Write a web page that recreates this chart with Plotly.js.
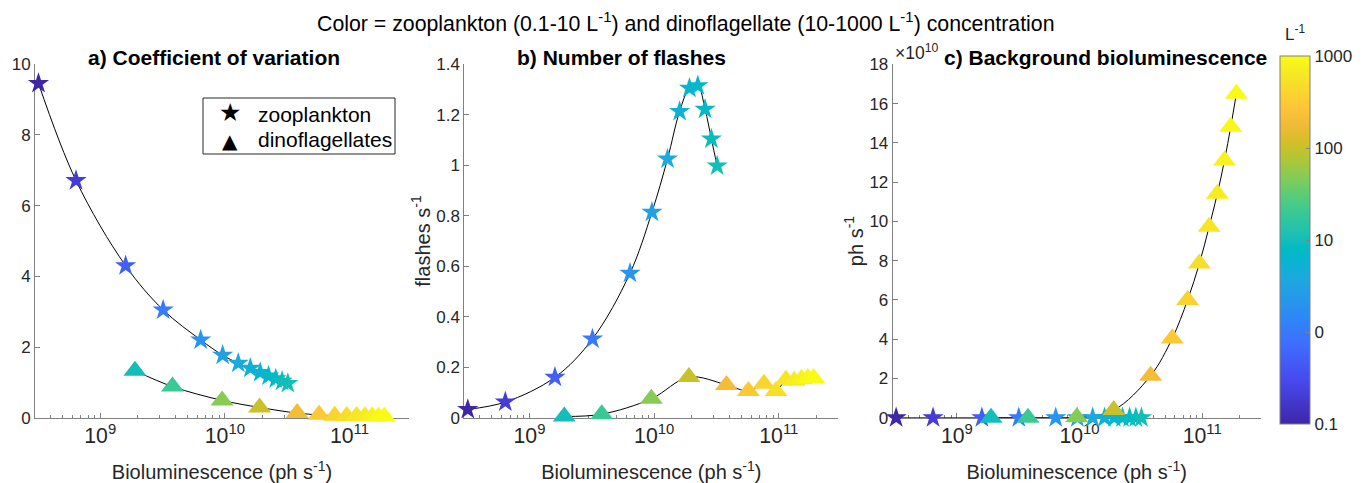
<!DOCTYPE html>
<html><head><meta charset="utf-8">
<script src="https://cdn.plot.ly/plotly-3.0.1.min.js"></script>
<style>html,body{margin:0;padding:0;background:#fff}</style>
</head><body><div id="chart" style="width:1370px;height:483px"></div>
<script>
// ---- data ----
const zooConc = [0.1, 0.2, 0.5, 1, 2, 3, 4, 5, 6, 7, 8, 9, 10];
const zooBiolum = [3.2e8, 6.4e8, 1.6e9, 3.2e9, 6.4e9, 9.6e9, 1.28e10, 1.6e10, 1.92e10, 2.24e10, 2.56e10, 2.88e10, 3.2e10];
const zooCV = [9.46, 6.71, 4.30, 3.05, 2.20, 1.77, 1.54, 1.40, 1.28, 1.18, 1.10, 1.03, 0.97];
const zooFlashes = [0.033, 0.062, 0.16, 0.312, 0.572, 0.814, 1.025, 1.213, 1.305, 1.315, 1.222, 1.104, 0.997];
const zooBackground = [0, 0, 0, 0, 0, 0, 0, 0, 0, 0, 0, 0, 0];

const dinoConc = [10, 20, 50, 100, 200, 300, 400, 500, 600, 700, 800, 900, 1000];
const dinoBiolum = [1.9e9, 3.8e9, 9.5e9, 1.9e10, 3.8e10, 5.7e10, 7.6e10, 9.5e10, 1.14e11, 1.33e11, 1.52e11, 1.71e11, 1.9e11];
const dinoCV = [1.33, 0.88, 0.49, 0.29, 0.13, 0.08, 0.057, 0.05, 0.045, 0.04, 0.04, 0.035, 0.035];
const dinoFlashes = [0.005, 0.014, 0.075, 0.161, 0.13, 0.106, 0.134, 0.106, 0.15, 0.146, 0.153, 0.157, 0.157];
const dinoBackground = [0, 0, 2e8, 3.9e9, 2.14e10, 4.04e10, 5.99e10, 7.86e10, 9.73e10, 1.141e11, 1.31e11, 1.482e11, 1.65e11];

const legendLabels = ['zooplankton', 'dinoflagellates'];
const bgTickVals = [0, 2e10, 4e10, 6e10, 8e10, 10e10, 12e10, 14e10, 16e10, 18e10];
const bgTickText = ['0', '2', '4', '6', '8', '10', '12', '14', '16', '18'];
const cbTickVals = [-1, 0, 1, 2, 3];
const cbTickText = ['0.1', '0', '10', '100', '1000'];

// MATLAB parula colormap
const parula = [
  [0.000, 'rgb(62,38,168)'], [0.111, 'rgb(71,71,235)'], [0.222, 'rgb(62,111,255)'],
  [0.286, 'rgb(46,135,247)'], [0.333, 'rgb(39,150,235)'], [0.397, 'rgb(28,169,223)'],
  [0.444, 'rgb(8,181,208)'], [0.476, 'rgb(2,186,195)'], [0.508, 'rgb(25,191,182)'],
  [0.571, 'rgb(55,200,151)'], [0.619, 'rgb(87,204,122)'], [0.667, 'rgb(129,204,89)'],
  [0.714, 'rgb(171,199,57)'], [0.762, 'rgb(209,191,39)'], [0.810, 'rgb(240,186,54)'],
  [0.857, 'rgb(254,195,56)'], [0.905, 'rgb(250,214,45)'], [0.952, 'rgb(245,233,36)'],
  [1.000, 'rgb(249,251,21)']
];

const zooColor = zooConc.map(Math.log10);
const dinoColor = dinoConc.map(Math.log10);

const FONT = 'Liberation Sans, Arial, Helvetica, sans-serif';
const AX = '#808080';
const TXT = '#262626';
const STAR = 16, TRI = 20;

function lineTrace(x, y, xa, ya) {
  return {x: x, y: y, xaxis: xa, yaxis: ya, type: 'scatter', mode: 'lines',
    line: {color: 'black', width: 1, shape: 'spline'}, showlegend: false, hoverinfo: 'skip', cliponaxis: false};
}
function markTrace(x, y, c, sym, size, xa, ya, name) {
  return {x: x, y: y, xaxis: xa, yaxis: ya, type: 'scatter', mode: 'markers', name: name,
    marker: {symbol: sym, size: size, color: c, coloraxis: 'coloraxis', line: {width: 0}},
    showlegend: false, cliponaxis: false};
}

const traces = [
  lineTrace(zooBiolum, zooCV, 'x', 'y'),
  lineTrace(dinoBiolum, dinoCV, 'x', 'y'),
  lineTrace(zooBiolum, zooFlashes, 'x2', 'y2'),
  lineTrace(dinoBiolum, dinoFlashes, 'x2', 'y2'),
  lineTrace(zooBiolum, zooBackground, 'x3', 'y3'),
  lineTrace(dinoBiolum, dinoBackground, 'x3', 'y3'),
  markTrace(zooBiolum, zooCV, zooColor, 'star', STAR, 'x', 'y', legendLabels[0]),
  markTrace(dinoBiolum, dinoCV, dinoColor, 'triangle-up', TRI, 'x', 'y', legendLabels[1]),
  markTrace(zooBiolum, zooFlashes, zooColor, 'star', STAR, 'x2', 'y2', legendLabels[0]),
  markTrace(dinoBiolum, dinoFlashes, dinoColor, 'triangle-up', TRI, 'x2', 'y2', legendLabels[1]),
  markTrace(zooBiolum, zooBackground, zooColor, 'star', STAR, 'x3', 'y3', legendLabels[0]),
  markTrace(dinoBiolum, dinoBackground, dinoColor, 'triangle-up', TRI, 'x3', 'y3', legendLabels[1])
];

const W = 1370, H = 483;
const px = v => v / W, py = v => 1 - v / H;
const yDom = [py(417.7), py(64.3)];

function xAxis(l, r, anchor) {
  return {domain: [px(l), px(r)], anchor: anchor, type: 'log',
    range: [Math.log10(3e8), Math.log10(3e11)], dtick: 1, exponentformat: 'power',
    ticks: 'inside', ticklen: 5, tickcolor: AX, showline: true, linecolor: AX, linewidth: 1,
    showgrid: false, zeroline: false, layer: 'below traces', automargin: false,
    tickfont: {family: FONT, size: 17, color: TXT},
    minor: {ticks: 'inside', ticklen: 3, tickcolor: AX, dtick: 'D1', showgrid: false},
    title: {text: 'Bioluminescence (ph s<sup>-1</sup>)', font: {family: FONT, size: 20, color: TXT}, standoff: 18}};
}
function yAxis(anchor, range, extra) {
  return Object.assign({domain: yDom, anchor: anchor, range: range,
    ticks: 'inside', ticklen: 5, tickcolor: AX, showline: true, linecolor: AX, linewidth: 1,
    showgrid: false, zeroline: false, layer: 'below traces', automargin: false,
    tickfont: {family: FONT, size: 17, color: TXT}}, extra);
}

function label(text, x, y, size, opts) {
  return Object.assign({text: text, xref: 'paper', yref: 'paper', x: px(x), y: py(y),
    xanchor: 'center', yanchor: 'middle', showarrow: false,
    font: {family: FONT, size: size, color: 'black'}}, opts || {});
}

const layout = {
  width: W, height: H, margin: {l: 0, r: 0, t: 0, b: 0},
  paper_bgcolor: 'white', plot_bgcolor: 'white',
  font: {family: FONT, color: TXT},
  showlegend: false,
  xaxis: xAxis(35, 409, 'y'),
  xaxis2: xAxis(464.3, 838.3, 'y2'),
  xaxis3: xAxis(892.7, 1260.7, 'y3'),
  yaxis: yAxis('x', [0, 10], {dtick: 2}),
  yaxis2: yAxis('x2', [0, 1.4], {dtick: 0.2,
    title: {text: 'flashes s<sup>-1</sup>', font: {family: FONT, size: 20, color: TXT}, standoff: 0}}),
  yaxis3: yAxis('x3', [0, 18e10], {tickmode: 'array', tickvals: bgTickVals, ticktext: bgTickText,
    title: {text: 'ph s<sup>-1</sup>', font: {family: FONT, size: 20, color: TXT}, standoff: 0}}),
  coloraxis: {cmin: -1, cmax: 3, colorscale: parula,
    colorbar: {x: px(1280), xanchor: 'left', y: py(56), yanchor: 'top', len: 368, lenmode: 'pixels',
      thickness: 30, thicknessmode: 'pixels', xpad: 0, ypad: 0, outlinewidth: 1, outlinecolor: AX,
      tickmode: 'array', tickvals: cbTickVals, ticktext: cbTickText, ticks: 'inside', ticklen: 4, tickcolor: AX,
      tickfont: {family: FONT, size: 17, color: TXT}}},
  shapes: [
    {type: 'rect', xref: 'paper', yref: 'paper', x0: px(203), x1: px(395), y0: py(154), y1: py(98),
      line: {color: TXT, width: 1}, fillcolor: 'rgba(0,0,0,0)', layer: 'above'}
  ],
  annotations: [
    label('Color = zooplankton (0.1-10 L<sup>-1</sup>) and dinoflagellate (10-1000 L<sup>-1</sup>) concentration', 686, 22, 21.3),
    label('<b>a) Coefficient of variation</b>', 214, 57.5, 21),
    label('<b>b) Number of flashes</b>', 621.5, 57.5, 21),
    label('<b>c) Background bioluminescence</b>', 1105, 57.5, 21),
    label('×10<sup>10</sup>', 893, 65, 17.5, {xanchor: 'left', yanchor: 'bottom', font: {family: FONT, size: 17.5, color: TXT}}),
    label('L<sup>-1</sup>', 1295, 33, 17, {font: {family: FONT, size: 17, color: TXT}}),
    // legend
    label('★', 230, 112, 25, {font: {family: 'DejaVu Sans', size: 25, color: 'black'}}),
    label('▲', 230, 141, 20, {font: {family: 'DejaVu Sans', size: 20, color: 'black'}}),
    label(legendLabels[0], 256, 114.5, 21, {xanchor: 'left'}),
    label(legendLabels[1], 256, 140, 21, {xanchor: 'left'})
  ]
};

Plotly.newPlot('chart', traces, layout, {displayModeBar: false, staticPlot: true});
</script></body></html>
